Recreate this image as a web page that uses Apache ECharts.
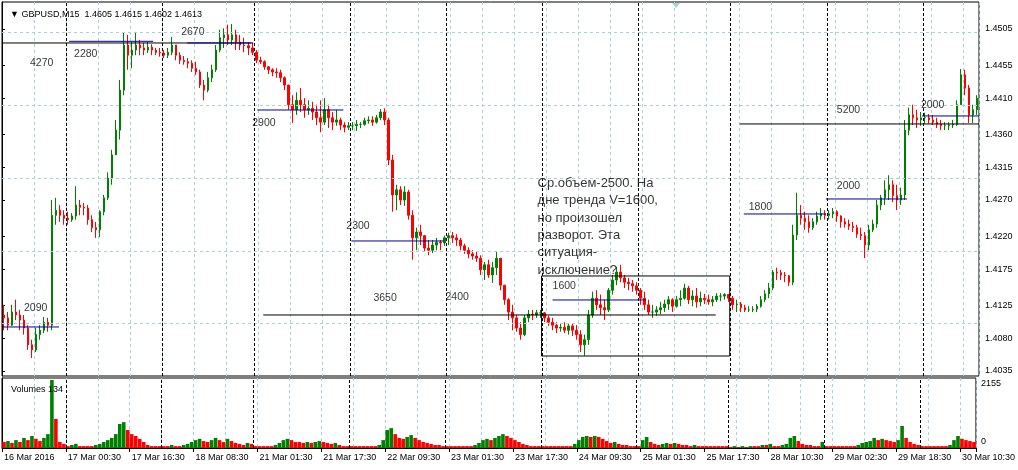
<!DOCTYPE html>
<html><head><meta charset="utf-8">
<script src="https://cdn.jsdelivr.net/npm/echarts@6/dist/echarts.min.js"></script>
<style>html,body{margin:0;padding:0;background:#fff}#c{width:1018px;height:470px}</style>
</head><body><div id="c"></div>
<script>
// hourly bars: [day, first hour, last hour]
const dayHours = [['16 Mar',8,23],['17 Mar',0,23],['18 Mar',0,22],['21 Mar',0,23],['22 Mar',0,23],['23 Mar',0,23],['24 Mar',0,23],['25 Mar',0,22],['28 Mar',0,23],['29 Mar',0,23],['30 Mar',0,13]];
const xTickLabels = ['16 Mar 2016','17 Mar 00:30','17 Mar 16:30','18 Mar 08:30','21 Mar 01:30','21 Mar 17:30','22 Mar 09:30','23 Mar 01:30','23 Mar 17:30','24 Mar 09:30','25 Mar 01:30','25 Mar 17:30','28 Mar 10:30','29 Mar 02:30','29 Mar 18:30','30 Mar 10:30'];
const priceTicks = [1.4035,1.4080,1.4125,1.4175,1.4220,1.4270,1.4315,1.4360,1.4410,1.4455,1.4505];
const volumeTicks = [0,2155];

const opens = [1.4112,1.4108,1.4098,1.4116,1.4112,1.4105,1.4094,1.4071,1.4064,1.4085,1.4091,1.4102,
1.4098,1.4249,1.4256,1.4249,1.4245,1.4243,1.4248,1.4263,1.4260,1.4259,1.4243,1.4232,
1.4229,1.4254,1.4273,1.4300,1.4332,1.4366,1.4421,1.4483,1.4469,1.4476,1.4483,1.4479,
1.4476,1.4480,1.4476,1.4473,1.4472,1.4469,1.4473,1.4483,1.4469,1.4462,1.4460,1.4458,
1.4451,1.4446,1.4428,1.4421,1.4438,1.4449,1.4476,1.4493,1.4497,1.4490,1.4497,1.4487,
1.4483,1.4482,1.4479,1.4473,1.4462,1.4460,1.4453,1.4449,1.4446,1.4445,1.4438,1.4428,
1.4401,1.4394,1.4407,1.4401,1.4394,1.4396,1.4391,1.4383,1.4377,1.4394,1.4383,1.4377,
1.4380,1.4373,1.4370,1.4372,1.4372,1.4374,1.4374,1.4379,1.4380,1.4377,1.4383,1.4391,
1.4380,1.4325,1.4277,1.4284,1.4270,1.4281,1.4249,1.4218,1.4226,1.4221,1.4204,1.4201,
1.4208,1.4212,1.4211,1.4218,1.4221,1.4218,1.4215,1.4207,1.4201,1.4196,1.4193,1.4190,
1.4174,1.4181,1.4167,1.4177,1.4190,1.4153,1.4133,1.4116,1.4108,1.4094,1.4085,1.4108,
1.4113,1.4112,1.4115,1.4115,1.4108,1.4102,1.4098,1.4094,1.4095,1.4091,1.4097,1.4091,
1.4085,1.4071,1.4078,1.4112,1.4135,1.4126,1.4122,1.4119,1.4146,1.4160,1.4171,1.4163,
1.4157,1.4155,1.4152,1.4146,1.4135,1.4126,1.4116,1.4116,1.4119,1.4122,1.4127,1.4133,
1.4124,1.4133,1.4135,1.4149,1.4133,1.4138,1.4130,1.4135,1.4133,1.4130,1.4133,1.4138,
1.4138,1.4140,1.4135,1.4126,1.4127,1.4122,1.4119,1.4119,1.4120,1.4124,1.4133,1.4141,
1.4149,1.4171,1.4170,1.4167,1.4166,1.4157,1.4222,1.4249,1.4245,1.4240,1.4232,1.4240,
1.4248,1.4251,1.4249,1.4251,1.4254,1.4248,1.4240,1.4237,1.4234,1.4232,1.4223,1.4221,
1.4208,1.4229,1.4237,1.4263,1.4273,1.4284,1.4291,1.4276,1.4270,1.4277,1.4366,1.4387,
1.4383,1.4380,1.4383,1.4383,1.4380,1.4377,1.4374,1.4372,1.4372,1.4373,1.4374,1.4401,
1.4442,1.4424,1.4387,1.4394];
const highs = [1.4126,1.4116,1.4126,1.4133,1.4119,1.4112,1.4098,1.4078,1.4094,1.4098,1.4109,1.4108,
1.4270,1.4273,1.4263,1.4256,1.4254,1.4252,1.4289,1.4270,1.4266,1.4263,1.4249,1.4240,
1.4256,1.4277,1.4308,1.4339,1.4380,1.4435,1.4500,1.4497,1.4487,1.4501,1.4490,1.4486,
1.4487,1.4484,1.4479,1.4479,1.4476,1.4479,1.4494,1.4483,1.4473,1.4468,1.4465,1.4462,
1.4460,1.4449,1.4435,1.4446,1.4456,1.4483,1.4504,1.4506,1.4511,1.4512,1.4504,1.4497,
1.4493,1.4487,1.4486,1.4476,1.4467,1.4462,1.4454,1.4451,1.4451,1.4449,1.4440,1.4428,
1.4414,1.4418,1.4424,1.4410,1.4407,1.4405,1.4401,1.4407,1.4410,1.4401,1.4391,1.4394,
1.4383,1.4377,1.4377,1.4377,1.4380,1.4377,1.4383,1.4385,1.4385,1.4387,1.4395,1.4396,
1.4383,1.4332,1.4291,1.4289,1.4289,1.4284,1.4256,1.4232,1.4236,1.4222,1.4215,1.4215,
1.4218,1.4215,1.4221,1.4225,1.4226,1.4223,1.4218,1.4210,1.4205,1.4201,1.4199,1.4194,
1.4185,1.4188,1.4185,1.4199,1.4190,1.4153,1.4135,1.4126,1.4112,1.4102,1.4112,1.4119,
1.4119,1.4119,1.4119,1.4116,1.4111,1.4108,1.4102,1.4101,1.4102,1.4101,1.4100,1.4098,
1.4091,1.4085,1.4119,1.4144,1.4146,1.4140,1.4133,1.4149,1.4167,1.4178,1.4181,1.4167,
1.4163,1.4160,1.4157,1.4149,1.4144,1.4133,1.4126,1.4124,1.4130,1.4133,1.4138,1.4135,
1.4138,1.4146,1.4155,1.4152,1.4146,1.4149,1.4144,1.4141,1.4140,1.4138,1.4142,1.4142,
1.4142,1.4141,1.4138,1.4133,1.4130,1.4126,1.4124,1.4124,1.4127,1.4138,1.4146,1.4156,
1.4174,1.4177,1.4174,1.4171,1.4167,1.4236,1.4280,1.4263,1.4254,1.4249,1.4245,1.4254,
1.4259,1.4256,1.4256,1.4259,1.4256,1.4249,1.4245,1.4243,1.4240,1.4236,1.4232,1.4226,
1.4236,1.4243,1.4270,1.4277,1.4297,1.4304,1.4297,1.4291,1.4287,1.4380,1.4397,1.4401,
1.4394,1.4391,1.4390,1.4388,1.4387,1.4383,1.4380,1.4377,1.4377,1.4380,1.4407,1.4450,
1.4449,1.4428,1.4401,1.4414];
const lows = [1.4091,1.4091,1.4097,1.4105,1.4091,1.4085,1.4064,1.4053,1.4061,1.4078,1.4087,1.4089,
1.4091,1.4236,1.4240,1.4236,1.4236,1.4240,1.4243,1.4249,1.4249,1.4236,1.4226,1.4218,
1.4219,1.4249,1.4270,1.4291,1.4332,1.4353,1.4414,1.4449,1.4451,1.4469,1.4469,1.4469,
1.4472,1.4469,1.4469,1.4467,1.4465,1.4465,1.4469,1.4462,1.4457,1.4456,1.4451,1.4446,
1.4442,1.4424,1.4407,1.4418,1.4432,1.4446,1.4473,1.4479,1.4483,1.4483,1.4476,1.4476,
1.4473,1.4469,1.4469,1.4458,1.4457,1.4449,1.4443,1.4440,1.4438,1.4432,1.4421,1.4394,
1.4376,1.4387,1.4391,1.4383,1.4387,1.4380,1.4373,1.4363,1.4373,1.4369,1.4366,1.4372,
1.4366,1.4363,1.4366,1.4366,1.4365,1.4369,1.4372,1.4375,1.4372,1.4375,1.4380,1.4373,
1.4318,1.4254,1.4256,1.4263,1.4262,1.4243,1.4188,1.4201,1.4208,1.4199,1.4194,1.4197,
1.4201,1.4201,1.4207,1.4208,1.4211,1.4207,1.4201,1.4196,1.4190,1.4188,1.4185,1.4167,
1.4160,1.4163,1.4156,1.4167,1.4146,1.4126,1.4105,1.4091,1.4089,1.4078,1.4083,1.4102,
1.4105,1.4108,1.4108,1.4102,1.4097,1.4091,1.4087,1.4089,1.4087,1.4085,1.4083,1.4078,
1.4061,1.4056,1.4071,1.4108,1.4119,1.4112,1.4105,1.4116,1.4140,1.4153,1.4157,1.4149,
1.4146,1.4144,1.4140,1.4126,1.4119,1.4112,1.4108,1.4111,1.4113,1.4116,1.4119,1.4116,
1.4122,1.4124,1.4133,1.4127,1.4124,1.4122,1.4124,1.4127,1.4126,1.4124,1.4130,1.4131,
1.4133,1.4130,1.4119,1.4116,1.4116,1.4116,1.4116,1.4116,1.4116,1.4122,1.4130,1.4135,
1.4146,1.4160,1.4160,1.4157,1.4152,1.4153,1.4215,1.4236,1.4229,1.4225,1.4229,1.4236,
1.4243,1.4243,1.4243,1.4245,1.4240,1.4232,1.4232,1.4229,1.4226,1.4218,1.4215,1.4190,
1.4201,1.4226,1.4232,1.4256,1.4263,1.4270,1.4267,1.4256,1.4263,1.4270,1.4359,1.4373,
1.4369,1.4372,1.4375,1.4375,1.4373,1.4369,1.4366,1.4366,1.4366,1.4369,1.4372,1.4401,
1.4414,1.4376,1.4376,1.4387];
const closes = [1.4108,1.4098,1.4116,1.4112,1.4105,1.4094,1.4071,1.4064,1.4085,1.4091,1.4102,1.4098,
1.4249,1.4256,1.4249,1.4245,1.4243,1.4248,1.4263,1.4260,1.4259,1.4243,1.4232,1.4229,
1.4254,1.4273,1.4300,1.4332,1.4366,1.4421,1.4483,1.4469,1.4476,1.4483,1.4479,1.4476,
1.4480,1.4476,1.4473,1.4472,1.4469,1.4473,1.4483,1.4469,1.4462,1.4460,1.4458,1.4451,
1.4446,1.4428,1.4421,1.4438,1.4449,1.4476,1.4493,1.4497,1.4490,1.4497,1.4487,1.4483,
1.4482,1.4479,1.4473,1.4462,1.4460,1.4453,1.4449,1.4446,1.4445,1.4438,1.4428,1.4401,
1.4394,1.4407,1.4401,1.4394,1.4396,1.4391,1.4383,1.4377,1.4394,1.4383,1.4377,1.4380,
1.4373,1.4370,1.4372,1.4372,1.4374,1.4374,1.4379,1.4380,1.4377,1.4383,1.4391,1.4380,
1.4325,1.4277,1.4284,1.4270,1.4281,1.4249,1.4218,1.4226,1.4221,1.4204,1.4201,1.4208,
1.4212,1.4211,1.4218,1.4221,1.4218,1.4215,1.4207,1.4201,1.4196,1.4193,1.4190,1.4174,
1.4181,1.4167,1.4177,1.4190,1.4153,1.4133,1.4116,1.4108,1.4094,1.4085,1.4108,1.4113,
1.4112,1.4115,1.4115,1.4108,1.4102,1.4098,1.4094,1.4095,1.4091,1.4097,1.4091,1.4085,
1.4071,1.4078,1.4112,1.4135,1.4126,1.4122,1.4119,1.4146,1.4160,1.4171,1.4163,1.4157,
1.4155,1.4152,1.4146,1.4135,1.4126,1.4116,1.4116,1.4119,1.4122,1.4127,1.4133,1.4124,
1.4133,1.4135,1.4149,1.4133,1.4138,1.4130,1.4135,1.4133,1.4130,1.4133,1.4138,1.4138,
1.4140,1.4135,1.4126,1.4127,1.4122,1.4119,1.4119,1.4120,1.4124,1.4133,1.4141,1.4149,
1.4171,1.4170,1.4167,1.4166,1.4157,1.4222,1.4249,1.4245,1.4240,1.4232,1.4240,1.4248,
1.4251,1.4249,1.4251,1.4254,1.4248,1.4240,1.4237,1.4234,1.4232,1.4223,1.4221,1.4208,
1.4229,1.4237,1.4263,1.4273,1.4284,1.4291,1.4276,1.4270,1.4277,1.4366,1.4387,1.4383,
1.4380,1.4383,1.4383,1.4380,1.4377,1.4374,1.4372,1.4372,1.4373,1.4374,1.4401,1.4442,
1.4424,1.4387,1.4394,1.4410];
const volumes = [190,220,160,250,190,320,250,380,290,220,320,440,
2155,920,190,130,60,95,130,60,60,60,60,95,
130,190,250,320,440,760,820,570,440,380,290,190,
95,60,60,60,60,60,95,60,60,95,130,190,
250,290,220,190,250,320,250,190,290,220,160,130,
95,160,130,60,60,60,60,60,95,160,250,290,
250,190,190,160,190,160,190,220,190,160,130,160,
95,60,60,60,60,60,60,60,60,60,95,250,
570,630,440,320,290,350,410,320,250,190,160,130,
95,95,60,60,60,60,60,60,60,60,95,160,
250,290,250,320,380,440,380,320,250,190,130,95,
60,60,60,60,60,60,60,60,60,60,60,130,
250,350,380,350,380,350,290,220,160,190,130,95,
95,60,60,60,250,350,190,130,95,130,160,130,
160,130,95,95,60,95,60,60,60,60,60,60,
60,60,30,60,30,60,30,60,60,60,95,95,
130,60,60,95,130,320,380,220,130,95,95,60,
60,190,60,60,60,60,60,60,60,60,95,160,
190,220,320,250,290,250,220,190,250,700,320,190,
130,95,60,60,60,60,60,60,60,95,250,380,
290,250,220,190];

// levels drawn on the chart: [fromBar, toBar, price]
const blackLevels = [[0,62.75,1.44858],[65.25,178.25,1.41120],[184.25,244,1.43745]];
const blueLevels = [[16.75,37.75,1.44881],[46.25,62.25,1.44858],[63.75,85.25,1.43937],[0.25,14.25,1.40955],[87.25,110.25,1.42137],[137.5,160.75,1.41326],[185.25,205.75,1.42508],[205.75,226,1.42714],[229.75,244,1.43855]];
const noteBox = [134.75,181.75,1.40556,1.41656];
const levelLabels = [['4270',7,1.44583],['2280',18,1.44707],['2670',44.75,1.45009],['2900',62.5,1.43758],['2090',5.5,1.41216],['2300',86,1.42343],['3650',92.75,1.41353],['2400',110.75,1.41367],['1600',137.5,1.41518],['1800',186.5,1.42604],['2000',208.5,1.42893],['5200',208.5,1.43937],['2000',229.5,1.44006]];
const noteText = 'Ср.объем-2500. На\nдне тренда V=1600,\nно произошел\nразворот. Эта\nситуация-\nисключение?';
const notePos = [133.75,1.43044];

const categories = [];
dayHours.forEach(([d,h0,h1]) => { for (let h = h0; h <= h1; h++) categories.push(d + ' ' + String(h).padStart(2,'0') + ':00'); });
const N = categories.length;
const dayStarts = categories.map((c,i) => (i > 0 && c.endsWith(' 00:00')) ? i : -1).filter(i => i > 0);

const FONT = 'Liberation Sans, Arial, sans-serif';
const GRIDC = '#a9d3d3';
const BLUE = '#000099';
const UP = '#008000', DOWN = '#ff0000';

const candleData = categories.map((_, i) => [opens[i], closes[i], lows[i], highs[i]]);
const volData = volumes.map((v, i) => ({ value: v, itemStyle: { color: (i > 0 && v > volumes[i-1]) ? UP : DOWN } }));

function seg(level, color) {
  return { type: 'line', xAxisIndex: 1, yAxisIndex: 0, data: [[level[0], level[2]], [level[1], level[2]]],
    symbol: 'none', lineStyle: { color: color, width: 1 }, silent: true, z: 6, animation: false };
}
const dashDay = { color: '#000', type: [3, 2], width: 1 };
const dashGrid = { color: GRIDC, type: [3, 3], width: 1 };

const series = [
  { type: 'line', xAxisIndex: 1, yAxisIndex: 0, data: [], z: 1, silent: true, animation: false,
    markLine: { silent: true, symbol: ['none','none'], label: { show: false }, animation: false,
      data: priceTicks.map(v => ({ yAxis: v, lineStyle: dashGrid })).concat(dayStarts.map(i => ({ xAxis: i, lineStyle: dashDay }))) } },
  { type: 'candlestick', xAxisIndex: 0, yAxisIndex: 0, data: candleData, barWidth: 2, z: 3, animation: false,
    itemStyle: { color: UP, color0: DOWN, borderColor: UP, borderColor0: DOWN, borderWidth: 1 } },
  ...blackLevels.map(l => seg(l, '#000')),
  ...blueLevels.map(l => seg(l, BLUE)),
  { type: 'line', xAxisIndex: 1, yAxisIndex: 0, symbol: 'none', silent: true, z: 6, animation: false,
    lineStyle: { color: '#000', width: 1 },
    data: [[noteBox[0], noteBox[3]], [noteBox[1], noteBox[3]], [noteBox[1], noteBox[2]], [noteBox[0], noteBox[2]], [noteBox[0], noteBox[3]]] },
  { type: 'scatter', xAxisIndex: 1, yAxisIndex: 0, symbolSize: 0, silent: true, z: 7, animation: false,
    data: levelLabels.map(l => ({ name: l[0], value: [l[1], l[2]] })),
    label: { show: true, position: 'right', distance: 0, formatter: '{b}', color: '#000', fontSize: 10.5, fontFamily: FONT } },
  { type: 'scatter', xAxisIndex: 1, yAxisIndex: 0, symbolSize: 0, silent: true, z: 7, animation: false,
    data: [{ name: noteText, value: notePos }],
    label: { show: true, position: [0, 0], align: 'left', verticalAlign: 'top', formatter: '{b}', color: '#000', fontSize: 13, lineHeight: 17.3, fontFamily: FONT } },
  { type: 'bar', xAxisIndex: 2, yAxisIndex: 1, data: volData, barCategoryGap: '10%', z: 3, animation: false },
  { type: 'line', xAxisIndex: 3, yAxisIndex: 1, data: [], z: 1, silent: true, animation: false,
    markLine: { silent: true, symbol: ['none','none'], label: { show: false }, animation: false,
      data: dayStarts.map(i => ({ xAxis: i, lineStyle: dashDay })) } }
];

const chart = echarts.init(document.getElementById('c'), null, { renderer: 'canvas' });
chart.setOption({
  backgroundColor: '#fff',
  animation: false,
  title: [
    { text: '▼ GBPUSD,M15  1.4605 1.4615 1.4602 1.4613', left: 5, top: 5, textStyle: { fontSize: 9, fontWeight: 'normal', color: '#000', fontFamily: FONT } },
    { text: 'Volumes 134', left: 6, top: 380, textStyle: { fontSize: 9, fontWeight: 'normal', color: '#000', fontFamily: FONT } }
  ],
  graphic: [{ type: 'polygon', shape: { points: [[672, 3], [680, 3], [676, 8]] }, style: { fill: GRIDC }, z: 10 }],
  grid: [
    { left: 2, right: 39, top: 2, bottom: 94, show: true, borderColor: '#000', borderWidth: 1, backgroundColor: 'transparent' },
    { left: 2, right: 39, top: 378, bottom: 22, show: true, borderColor: '#000', borderWidth: 1, backgroundColor: 'transparent' }
  ],
  xAxis: [
    { type: 'category', gridIndex: 0, data: categories, boundaryGap: true,
      axisLine: { show: false }, axisTick: { show: false }, axisLabel: { show: false },
      splitLine: { show: true, interval: 7, lineStyle: dashGrid } },
    { type: 'value', gridIndex: 0, min: 0, max: N, show: false },
    { type: 'category', gridIndex: 1, data: categories, boundaryGap: true,
      axisLine: { show: true, lineStyle: { color: '#000' } },
      axisTick: { show: true, interval: 15, length: 4, lineStyle: { color: '#000' } },
      axisLabel: { interval: 15, align: 'left', margin: 5, fontSize: 9, color: '#000', fontFamily: FONT,
        formatter: (v, i) => xTickLabels[Math.round(i / 16)] || '' },
      splitLine: { show: true, interval: 7, lineStyle: dashGrid } },
    { type: 'value', gridIndex: 1, min: 0, max: N, show: false }
  ],
  yAxis: [
    { type: 'value', gridIndex: 0, position: 'right', min: 1.402813, max: 1.454211,
      axisLine: { show: true, lineStyle: { color: '#000' } },
      axisTick: { show: true, length: 3, customValues: priceTicks, lineStyle: { color: '#000' } },
      axisLabel: { customValues: priceTicks, formatter: v => v.toFixed(4), fontSize: 9, color: '#000', fontFamily: FONT, margin: 6 },
      splitLine: { show: false } },
    { type: 'value', gridIndex: 1, position: 'right', min: 0, max: 2218,
      axisLine: { show: true, lineStyle: { color: '#000' } },
      axisTick: { show: false },
      axisLabel: { customValues: volumeTicks, fontSize: 9, color: '#000', fontFamily: FONT, margin: 5,
        formatter: v => v === 0 ? '{b|0}' : '{t|' + v + '}',
        rich: { t: { padding: [8, 0, 0, 0], fontSize: 9, fontFamily: FONT }, b: { padding: [0, 0, 12, 0], fontSize: 9, fontFamily: FONT } } },
      splitLine: { show: false } }
  ],
  series: series
});
</script>
</body></html>
